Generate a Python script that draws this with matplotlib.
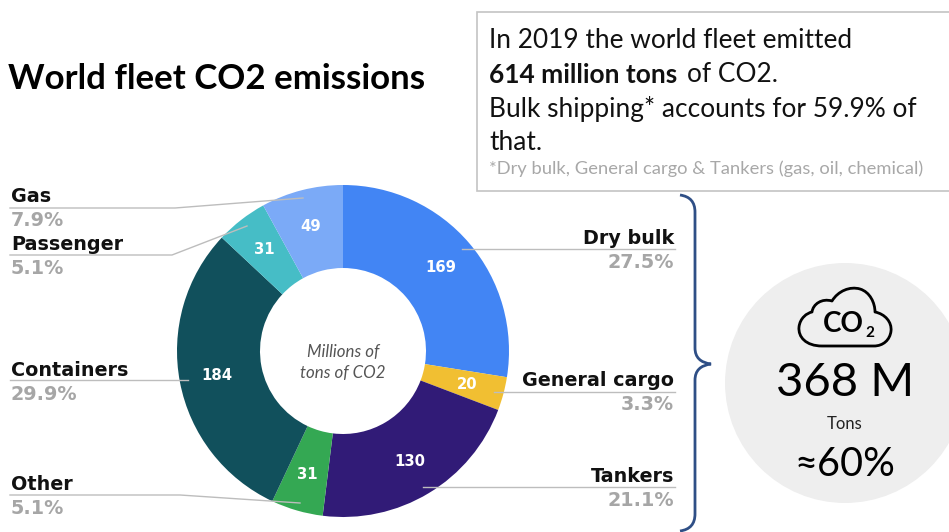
import matplotlib
matplotlib.use('Agg')
import matplotlib.pyplot as plt
from matplotlib.patches import Circle, PathPatch, Rectangle
from matplotlib.path import Path

# Data
categories = ['Dry bulk', 'General cargo', 'Tankers', 'Other', 'Containers', 'Passenger', 'Gas']
emissions = [169, 20, 130, 31, 184, 31, 49]
shares = ['27.5%', '3.3%', '21.1%', '5.1%', '29.9%', '5.1%', '7.9%']
colors = ['#4285f4', '#f1bf32', '#311b77', '#34a853', '#11505c', '#46bdc6', '#7baaf7']

W, H = 949, 532
TEXT_FONT = 'Lato'
LABEL_FONT = 'DejaVu Sans'


def py(y):
    # reference pixels count from the top
    return H - y


fig = plt.figure(figsize=(W / 100, H / 100), dpi=100)
ax = fig.add_axes([0, 0, 1, 1])

wedges, texts = ax.pie(
    emissions, labels=[str(v) for v in emissions], colors=colors,
    startangle=90, counterclock=False, center=(343, py(351)), radius=166,
    labeldistance=0.775, wedgeprops={'width': 83, 'linewidth': 0},
    textprops={'color': 'white', 'fontsize': 10.7, 'fontweight': 'bold', 'family': LABEL_FONT},
)
for t in texts:
    t.set_ha('center')
    t.set_va('center')

ax.set_xlim(0, W)
ax.set_ylim(0, H)
ax.set_aspect('equal')
ax.axis('off')

# Leader lines
leaders = {
    'Gas': [(10, 208), (175, 208), (303, 198)],
    'Passenger': [(10, 255), (172, 255), (247, 226)],
    'Containers': [(10, 380), (188, 380)],
    'Other': [(10, 495), (180, 495), (300, 503)],
    'Dry bulk': [(675, 249), (462, 249)],
    'General cargo': [(675, 392), (494, 392)],
    'Tankers': [(675, 487), (423, 487)],
}
for pts in leaders.values():
    ax.plot([p[0] for p in pts], [py(p[1]) for p in pts], color='#bdbdbd', lw=1, zorder=4)

# Category labels: name above the line, share below
label_pos = {
    'Gas': (11, 197, 221, 'left'),
    'Passenger': (11, 244, 268, 'left'),
    'Containers': (11, 370, 394, 'left'),
    'Other': (11, 484, 508, 'left'),
    'Dry bulk': (674, 238, 262, 'right'),
    'General cargo': (674, 381, 405, 'right'),
    'Tankers': (674, 477, 501, 'right'),
}
for name, share in zip(categories, shares):
    x, y1, y2, ha = label_pos[name]
    ax.text(x, py(y1), name, ha=ha, va='center', fontsize=13.8, fontweight='bold',
            family=LABEL_FONT, color='#111111')
    ax.text(x, py(y2), share, ha=ha, va='center', fontsize=13.8, fontweight='bold',
            family=LABEL_FONT, color='#a6a6a6')

# Centre of the donut
ax.text(343, py(352), 'Millions of', ha='center', va='center', fontsize=12.2, style='italic',
        family=TEXT_FONT, color='#555555')
ax.text(343, py(373), 'tons of CO2', ha='center', va='center', fontsize=12.2, style='italic',
        family=TEXT_FONT, color='#555555')

# Title
ax.text(8, py(79), 'World fleet CO2 emissions', ha='left', va='center', fontsize=25.1,
        fontweight='bold', family=TEXT_FONT, color='black')

# Note box
ax.add_patch(Rectangle((477, py(191)), 500, 179, facecolor='white', edgecolor='#c4c4c4', lw=1.2))
ax.text(489, py(41), 'In 2019 the world fleet emitted', ha='left', va='center', fontsize=18.9,
        family=TEXT_FONT, color='#111111')
ax.text(489, py(75), '614 million tons', ha='left', va='center', fontsize=18.9, fontweight='bold',
        family=TEXT_FONT, color='#111111')
ax.text(687, py(75), 'of CO2.', ha='left', va='center', fontsize=18.9,
        family=TEXT_FONT, color='#111111')
ax.text(489, py(109), 'Bulk shipping* accounts for 59.9% of', ha='left', va='center', fontsize=18.9,
        family=TEXT_FONT, color='#111111')
ax.text(489, py(142), 'that.', ha='left', va='center', fontsize=18.9,
        family=TEXT_FONT, color='#111111')
ax.text(489, py(169), '*Dry bulk, General cargo & Tankers (gas, oil, chemical)', ha='left', va='center',
        fontsize=13.2, family=TEXT_FONT, color='#a8a8a8')

# Brace
brace = [
    (Path.MOVETO, (680, 195)),
    (Path.CURVE3, (695, 197)), (Path.CURVE3, (695, 212)),
    (Path.LINETO, (695, 348)),
    (Path.CURVE3, (695, 362)), (Path.CURVE3, (711, 364)),
    (Path.CURVE3, (695, 366)), (Path.CURVE3, (695, 380)),
    (Path.LINETO, (695, 514)),
    (Path.CURVE3, (695, 529)), (Path.CURVE3, (680, 531)),
]
ax.add_patch(PathPatch(Path([(x, py(y)) for _, (x, y) in brace], [c for c, _ in brace]),
                       facecolor='none', edgecolor='#2f4f86', lw=2))

# Summary circle
ax.add_patch(Circle((845, py(383)), 120, facecolor='#eeeeee', edgecolor='none'))

cloud = [
    (Path.MOVETO, (822, 346)),
    (Path.CURVE4, (806, 346)), (Path.CURVE4, (798, 337)), (Path.CURVE4, (799, 327)),
    (Path.CURVE4, (800, 318)), (Path.CURVE4, (807, 313)), (Path.CURVE4, (812, 312)),
    (Path.CURVE4, (813, 304)), (Path.CURVE4, (822, 298)), (Path.CURVE4, (832, 301)),
    (Path.CURVE4, (838, 291)), (Path.CURVE4, (850, 286)), (Path.CURVE4, (860, 289)),
    (Path.CURVE4, (870, 292)), (Path.CURVE4, (875, 303)), (Path.CURVE4, (875, 312)),
    (Path.CURVE4, (885, 314)), (Path.CURVE4, (892, 322)), (Path.CURVE4, (891, 331)),
    (Path.CURVE4, (890, 340)), (Path.CURVE4, (883, 346)), (Path.CURVE4, (874, 346)),
    (Path.CLOSEPOLY, (822, 346)),
]
ax.add_patch(PathPatch(Path([(x, py(y)) for _, (x, y) in cloud], [c for c, _ in cloud]),
                       facecolor='none', edgecolor='black', lw=2, joinstyle='round'))
ax.text(843, py(324), 'CO', ha='center', va='center', fontsize=20, fontweight='bold',
        family=TEXT_FONT, color='black')
ax.text(870, py(333), '2', ha='center', va='center', fontsize=11, fontweight='bold',
        family=TEXT_FONT, color='black')
ax.text(845, py(383), '368 M', ha='center', va='center', fontsize=34, family=TEXT_FONT, color='black')
ax.text(845, py(424), 'Tons', ha='center', va='center', fontsize=12, family=TEXT_FONT, color='#222222')
ax.text(845, py(464), '≈60%', ha='center', va='center', fontsize=28.5, family=TEXT_FONT, color='black')

fig.savefig('out.png', dpi=100)
